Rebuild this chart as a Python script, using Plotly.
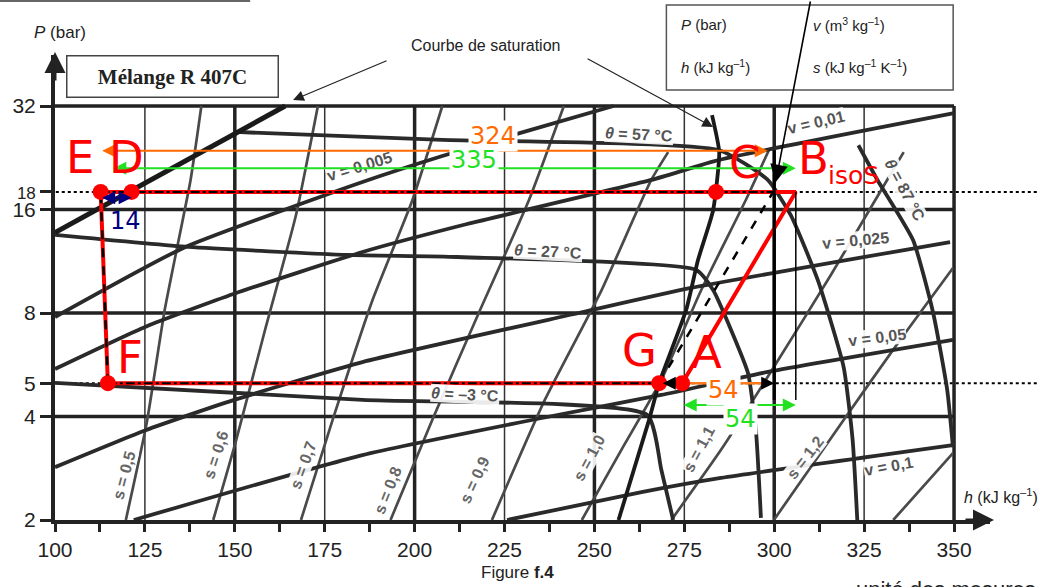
import math
import plotly.graph_objects as go

lg = math.log10

# ---------------- printed diagram (h in kJ/kg, P in bar) ----------------
sat_liquid_h = [100.0, 164.0]
sat_liquid_p = [13.7, 32.0]
sat_vapour_h = [282.7, 284.7, 283.0, 278.8, 275.5, 268.0, 265.2, 256.7]
sat_vapour_p = [30.1, 23.5, 15.9, 11.4, 8.16, 5.0, 3.91, 2.0]

# isotherms
t57_h = [150.1, 207.7, 284.7, 298.2, 304.6, 312.1, 319.3, 321.8, 323.1]
t57_p = [26.9, 25.5, 23.8, 19.5, 15.4, 9.98, 5.57, 3.42, 2.0]
t27_h = [100.0, 137.1, 181.4, 211.8, 278.3, 283.0, 288.0, 292.7, 294.9, 296.3]
t27_p = [13.5, 12.45, 11.8, 11.64, 10.67, 9.33, 7.14, 5.35, 3.65, 2.03]
tm3_h = [100.0, 185.5, 264.7, 268.6, 271.9]
tm3_p = [5.01, 4.47, 4.04, 2.80, 2.0]
t87_h = [323.4, 328.7, 338.6, 344.2, 348.1, 349.7]
t87_p = [24.6, 19.5, 13.04, 8.0, 4.78, 3.26]

# isochores
v0005_h = [100.0, 135.7, 185.5, 207.7, 230.4, 255.3]
v0005_p = [7.79, 12.37, 19.24, 22.9, 26.9, 32.0]
v001_h = [100.0, 125.2, 149.8, 185.5, 214.6, 265.8, 284.7, 350.0]
v001_p = [5.5, 7.3, 9.1, 12.04, 14.52, 19.5, 22.3, 30.5]
v0025_h = [100.0, 125.2, 149.8, 185.5, 245.6, 276.9, 348.9]
v0025_p = [2.85, 3.65, 4.47, 5.76, 8.0, 9.46, 12.87]
v005_h = [121.9, 185.5, 235.4, 268.6, 298.2, 349.7]
v005_p = [2.0, 3.09, 3.96, 4.62, 5.39, 6.68]
v01_h = [225.7, 263.1, 285.2, 349.7]
v01_p = [2.0, 2.41, 2.65, 3.30]

# isentropes
s05_h = [119.7, 125.5, 130.5, 137.7, 140.7]
s05_p = [2.0, 3.83, 8.16, 19.5, 32.0]
s06_h = [144.0, 150.4, 158.4, 167.0, 173.1]
s06_p = [2.0, 3.42, 7.14, 15.4, 32.0]
s07_h = [168.4, 177.2, 188.3, 199.4, 207.7]
s07_p = [2.0, 3.91, 8.73, 17.05, 32.0]
s08_h = [193.3, 204.9, 218.2, 231.8, 241.5]
s08_p = [2.0, 3.91, 8.16, 17.05, 32.0]
s09_h = [221.5, 236.2, 252.0, 265.8, 270.5]
s09_p = [2.0, 4.47, 9.33, 19.5, 23.5]
s10_h = [246.5, 257.5, 268.6, 279.7, 292.1, 298.5]
s10_p = [2.0, 3.20, 5.11, 9.33, 17.05, 23.8]
s11_h = [271.4, 285.2, 299.9, 315.7, 331.4, 336.0]
s11_p = [2.0, 3.20, 5.57, 10.3, 19.5, 23.5]
s12_h = [299.9, 319.3, 335.0, 349.7]
s12_p = [2.0, 3.91, 6.68, 10.81]
s13_h = [333.1, 349.7]
s13_p = [2.0, 3.13]

# curve labels: text, h, P, angle, colour
curve_labels = [
    ("<i>θ</i> = 57 °C", 262.5, 26.5, 3, "#555"),
    ("<i>θ</i> = 27 °C", 237.0, 12.1, 3, "#555"),
    ("<i>θ</i> = –3 °C", 214.1, 4.62, 3, "#555"),
    ("<i>θ</i> = 87 °C", 336.4, 18.2, 62, "#555"),
    ("v = 0,005", 184.7, 21.3, -17, "#555"),
    ("v = 0,01", 311.5, 28.6, -13, "#555"),
    ("v = 0,025", 322.6, 13.04, -5, "#555"),
    ("v = 0,05", 328.7, 6.81, -7, "#555"),
    ("v = 0,1", 331.7, 2.87, -10, "#555"),
    ("s = 0,5", 119.1, 2.70, -75, "#666"),
    ("s = 0,6", 144.6, 3.09, -72, "#666"),
    ("s = 0,7", 168.9, 2.89, -70, "#666"),
    ("s = 0,8", 192.5, 2.44, -68, "#666"),
    ("s = 0,9", 216.6, 2.61, -65, "#666"),
    ("s = 1,0", 248.7, 3.03, -62, "#666"),
    ("s = 1,1", 279.1, 3.20, -62, "#666"),
    ("s = 1,2", 308.7, 3.03, -52, "#666"),
]

# ---------------- cycle ----------------
P_HIGH = 18
P_LOW = 5
point_names = ["E", "D", "C", "F", "G", "A"]
point_h = [112.7, 121.3, 283.8, 114.7, 268.0, 274.4]
point_p = [P_HIGH, P_HIGH, P_HIGH, P_LOW, P_LOW, P_LOW]
h_B = 306.0
h_isentropic_end = 299.7

loop_h = [112.7, h_B, 274.4, 114.7, 112.7]
loop_p = [P_HIGH, P_HIGH, P_LOW, P_LOW, P_HIGH]

# measured lengths: label, h start, h end, P, colour
measures = [
    ("324", 112.7, 298.2, 23.7, "#ff6a00"),
    ("335", 115.8, h_B, 21.1, "#22e022"),
    ("14", 112.7, 121.3, 17.3, "#000080"),
    ("54", 274.4, h_B, 4.32, "#22e022"),
]

# axes
x_major = [100, 125, 150, 175, 200, 225, 250, 275, 300, 325, 350]
x_ticks = [100 + 12.5 * i for i in range(21)]
y_ticks = [2, 4, 5, 8, 16, 18, 32]
grid_h_thick = [150, 200, 250, 300, 350]
grid_h_thin = [125, 175, 225, 275, 325]
grid_p = [4, 8, 16, 32]

CHART = "#2a2a2a"
ISEN = "#4a4a4a"
RED = "#ff0000"

fig = go.Figure()


def curve(h, p, width, color, dash="solid", shape="spline"):
    fig.add_trace(go.Scatter(
        x=h, y=p, mode="lines",
        line=dict(color=color, width=width, dash=dash, shape=shape, smoothing=0.5),
        hoverinfo="skip", showlegend=False))


for hh, pp in [(s05_h, s05_p), (s06_h, s06_p), (s07_h, s07_p), (s08_h, s08_p),
               (s09_h, s09_p), (s10_h, s10_p), (s11_h, s11_p), (s12_h, s12_p),
               (s13_h, s13_p)]:
    curve(hh, pp, 2.7, ISEN)

for hh, pp in [(v0005_h, v0005_p), (v001_h, v001_p), (v0025_h, v0025_p),
               (v005_h, v005_p), (v01_h, v01_p)]:
    curve(hh, pp, 3.8, CHART)

for hh, pp in [(t57_h, t57_p), (t27_h, t27_p), (tm3_h, tm3_p), (t87_h, t87_p)]:
    curve(hh, pp, 3.8, CHART)

curve(sat_liquid_h, sat_liquid_p, 5, "#1a1a1a", shape="linear")
curve(sat_vapour_h, sat_vapour_p, 3.8, "#1a1a1a")

# cycle drawing
curve(loop_h, loop_p, 4, RED, shape="linear")
curve([point_h[0], h_isentropic_end], [P_HIGH, P_HIGH], 2, "black", dash="dashdot", shape="linear")
curve([point_h[3], point_h[4]], [P_LOW, P_LOW], 2, "black", dash="dashdot", shape="linear")
curve([point_h[3], point_h[0]], [P_LOW, P_HIGH], 2.5, "black", dash="dash", shape="linear")
curve([point_h[4], h_isentropic_end], [P_LOW, P_HIGH], 2.5, "black", dash="dash", shape="linear")
curve([point_h[4], 300], [P_LOW, P_LOW], 2.5, "#ff7a1a", shape="linear")

fig.add_trace(go.Scatter(
    x=point_h, y=point_p, mode="markers",
    marker=dict(size=16, color=RED, line=dict(width=0)),
    hoverinfo="skip", showlegend=False))

shapes = []
for hv in grid_h_thick:
    shapes.append(dict(type="line", xref="x", yref="y", x0=hv, x1=hv, y0=2, y1=32,
                       line=dict(color="#222", width=3.5), layer="below"))
for hv in grid_h_thin:
    shapes.append(dict(type="line", xref="x", yref="y", x0=hv, x1=hv, y0=2, y1=32,
                       line=dict(color="#333", width=1.5), layer="below"))
for pv in grid_p:
    shapes.append(dict(type="line", xref="x", yref="y", x0=100, x1=350, y0=pv, y1=pv,
                       line=dict(color="#222", width=3.5), layer="below"))
# dotted pressure levels
for pv in [P_HIGH, P_LOW]:
    shapes.append(dict(type="line", xref="paper", yref="y", x0=-0.012, x1=1.053, y0=pv, y1=pv,
                       line=dict(color="black", width=2, dash="dot"), layer="below"))
# construction verticals
shapes.append(dict(type="line", xref="x", yref="y", x0=300, x1=300, y0=23.8, y1=4.47,
                   line=dict(color="black", width=3)))
shapes.append(dict(type="line", xref="x", yref="y", x0=h_B, x1=h_B, y0=P_HIGH, y1=4.47,
                   line=dict(color="black", width=1.5)))
# boxes and rule at the top
shapes.append(dict(type="rect", xref="paper", yref="paper", x0=0.6539, x1=0.9606, y0=0.9247, y1=1.1075,
                   line=dict(color="#555", width=1.5)))
shapes.append(dict(type="line", xref="paper", yref="paper", x0=-0.06, x1=0.2087, y0=1.116, y1=1.116,
                   line=dict(color="#666", width=2)))


def px(xp):
    return (xp - 51) / 939.0


def py(yp):
    return (520 - yp) / 465.0


def note(text, xx, yy, size, color="#222", family="Liberation Sans", xanchor="center", **kw):
    d = dict(x=px(xx), y=py(yy), xref="paper", yref="paper", text=text, showarrow=False,
             xanchor=xanchor, yanchor="middle", font=dict(family=family, size=size, color=color))
    d.update(kw)
    return d


ann = []
for text, hh, pp, ang, col in curve_labels:
    ann.append(dict(x=hh, y=lg(pp), xref="x", yref="y", text="<b>" + text + "</b>",
                    textangle=ang, showarrow=False, bgcolor="rgba(255,255,255,0.9)",
                    xanchor="center", yanchor="middle", borderpad=0,
                    font=dict(family="Liberation Sans", size=16, color=col)))

# measurement arrows
for label, h0, h1, pp, col in measures:
    ann.append(dict(x=h1, y=lg(pp), ax=h0, ay=lg(pp), xref="x", yref="y", axref="x", ayref="y",
                    text="", showarrow=True, arrowhead=2, startarrowhead=2, arrowside="end+start",
                    arrowsize=1.3, startarrowsize=1.3, arrowwidth=2, arrowcolor=col, standoff=0))
# black heads of the low-pressure span
ann.append(dict(x=300, y=lg(P_LOW), xref="x", yref="y", ax=-14, ay=0, text="", showarrow=True,
                arrowhead=2, arrowsize=1.3, arrowwidth=2, arrowcolor="black"))
ann.append(dict(x=269.0, y=lg(P_LOW), xref="x", yref="y", ax=14, ay=0, text="", showarrow=True,
                arrowhead=2, arrowsize=1.3, arrowwidth=2, arrowcolor="black"))

num_labels = [
    ("324", 491, 136, "#ff6a00", True),
    ("335", 472, 160, "#22e022", True),
    ("14", 122, 221, "#000080", False),
    ("54", 722, 390, "#ff6a00", True),
    ("54", 739, 419, "#22e022", True),
]
for text, xx, yy, col, boxed in num_labels:
    extra = dict(bgcolor="white", borderpad=1) if boxed else {}
    ann.append(note(text, xx, yy, 24, col, "DejaVu Sans", **extra))

letters = [("E", 76, 157), ("D", 123, 157), ("C", 743, 162), ("B", 813, 158),
           ("F", 126, 357), ("G", 638, 350), ("A", 705, 352)]
for t, xx, yy in letters:
    ann.append(note(t, xx, yy, 45, RED, "DejaVu Sans"))
ann.append(note("isoS", 853, 175, 25, RED, "DejaVu Sans"))

# long pointer to the end of the isentropic compression
ann.append(dict(x=300.4, y=lg(19.2), xref="x", yref="y", ax=35, ay=-190, text="", showarrow=True,
                arrowhead=2, arrowsize=2.2, arrowwidth=1.6, arrowcolor="black"))

# saturation curve callout
ann.append(note("Courbe de saturation", 483, 45, 16))
ann.append(dict(x=166.2, y=lg(33.3), xref="x", yref="y", ax=95, ay=-40, text="", showarrow=True,
                arrowhead=2, arrowsize=1.8, arrowwidth=1.2, arrowcolor="#222"))
ann.append(dict(x=283.0, y=lg(27.8), xref="x", yref="y", ax=-127, ay=-69, text="", showarrow=True,
                arrowhead=2, arrowsize=1.8, arrowwidth=1.2, arrowcolor="#222"))

# title box
ann.append(note("<b>Mélange R 407C</b>", 169, 76, 21, "#222", "Liberation Serif",
                bordercolor="#444", borderwidth=1.5, borderpad=3, bgcolor="white",
                width=204, height=34))

# units box
units = [("<i>P</i> (bar)", 678, 24), ("<i>v</i> (m<sup>3</sup> kg<sup>–1</sup>)", 810, 24),
         ("<i>h</i> (kJ kg<sup>–1</sup>)", 678, 66),
         ("<i>s</i> (kJ kg<sup>–1</sup> K<sup>–1</sup>)", 810, 66)]
for t, xx, yy in units:
    ann.append(note(t, xx, yy, 15, xanchor="left"))

# axis titles and arrows
ann.append(note("<i>P</i> (bar)", 28, 33, 17, xanchor="left"))
ann.append(note("<i>h</i> (kJ kg<sup>–1</sup>)", 962, 496, 16, xanchor="left"))
ann.append(dict(x=px(994), y=0, xref="paper", yref="paper", ax=-30, ay=0, text="", showarrow=True,
                arrowhead=2, arrowsize=1.4, arrowwidth=3, arrowcolor="#222"))
ann.append(dict(x=0, y=py(52), xref="paper", yref="paper", ax=0, ay=30, text="", showarrow=True,
                arrowhead=2, arrowsize=1.4, arrowwidth=3, arrowcolor="#222"))

ann.append(note("Figure <b>f.4</b>", 515, 572, 17))
ann.append(note("unité des mesures", 853, 589, 22, xanchor="left"))

fig.update_layout(
    width=1063, height=587,
    margin=dict(l=51, r=73, t=55, b=67),
    paper_bgcolor="white", plot_bgcolor="white",
    font=dict(family="Liberation Sans", color="#222"),
    showlegend=False,
    shapes=shapes, annotations=ann,
    xaxis=dict(range=[100, 360], tickmode="array", tickvals=x_ticks,
               ticktext=[str(int(v)) if v in x_major else "" for v in x_ticks],
               ticks="outside", ticklen=8, tickwidth=2.5, tickcolor="#222",
               showline=True, linewidth=4, linecolor="#222", showgrid=False, zeroline=False,
               tickfont=dict(size=21, color="#222")),
    yaxis=dict(type="log", range=[lg(2), 1.6535], tickmode="array", tickvals=y_ticks,
               ticktext=[("<span style='font-size:17px'>18</span>" if v == 18 else str(v)) for v in y_ticks],
               ticks="outside", ticklen=11, tickwidth=2.5, tickcolor="#222",
               showline=True, linewidth=4, linecolor="#222", showgrid=False, zeroline=False,
               tickfont=dict(size=21, color="#222")),
)

fig.write_html("out.html")
